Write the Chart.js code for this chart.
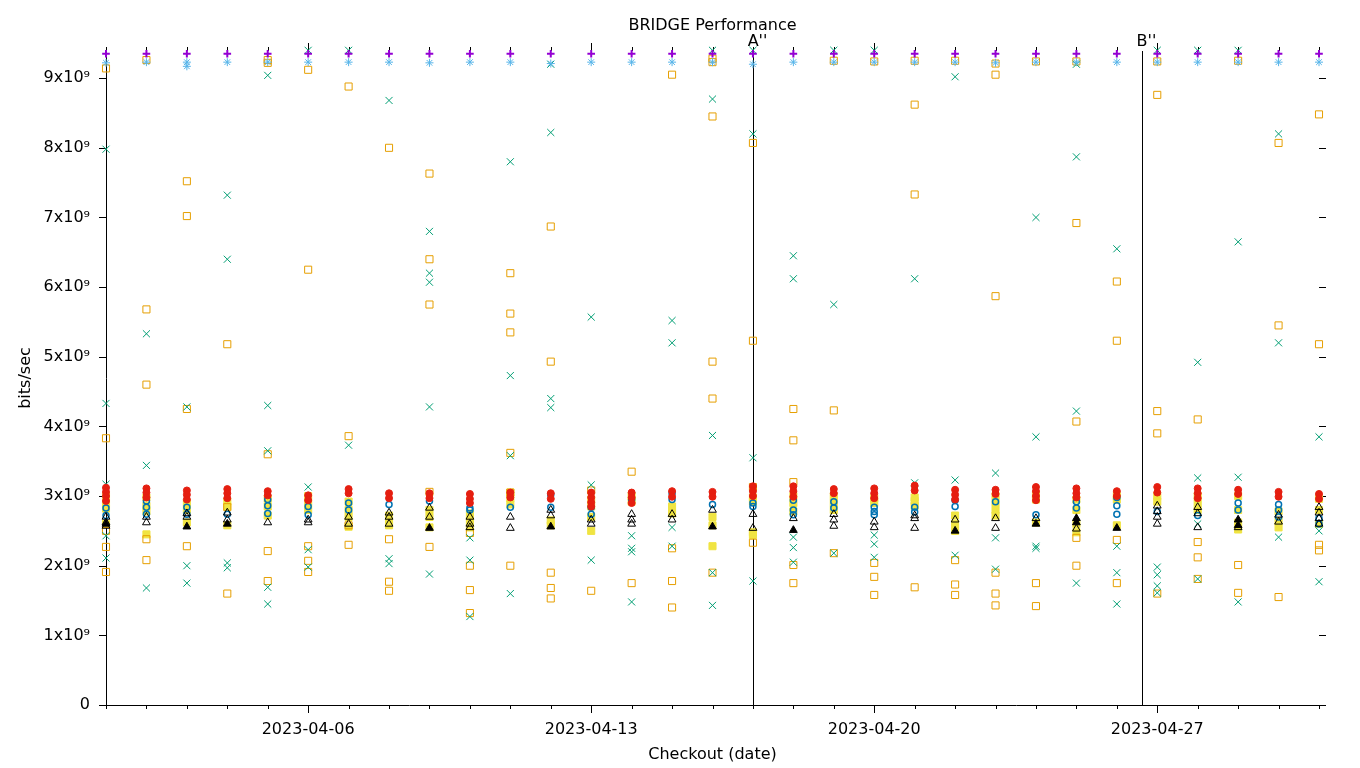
<!DOCTYPE html>
<html>
<head>
<meta charset="utf-8">
<title>BRIDGE Performance</title>
<script src="https://cdn.jsdelivr.net/npm/chart.js@4.4.1/dist/chart.umd.min.js"></script>
<style>
	html, body { margin: 0; padding: 0; background: #fff; }
	#chart { display: block; }
</style>
</head>
<body>
<canvas id="chart" width="1360" height="768"></canvas>
<script>
// one column of points per checkout date
const checkoutDates = [
	'2023-04-01', '2023-04-02', '2023-04-03', '2023-04-04', '2023-04-05', '2023-04-06', '2023-04-07',
	'2023-04-08', '2023-04-09', '2023-04-10', '2023-04-11', '2023-04-12', '2023-04-13', '2023-04-14',
	'2023-04-15', '2023-04-16', '2023-04-17', '2023-04-18', '2023-04-19', '2023-04-20', '2023-04-21',
	'2023-04-22', '2023-04-23', '2023-04-24', '2023-04-25', '2023-04-26', '2023-04-27', '2023-04-28',
	'2023-04-29', '2023-04-30', '2023-05-01'
];
const tickDates = ['2023-04-06', '2023-04-13', '2023-04-20', '2023-04-27'];
const yTicks = [0, 1, 2, 3, 4, 5, 6, 7, 8, 9]; // x10^9
const markerLabels = ["A''", "B''"];
const markerTimes = ['2023-04-17T00:00:00Z', '2023-04-26T15:00:00Z'];

// values in 10^9 bits/sec, a list per checkout date
const purplePlus = [
	[9.35], [9.35], [9.35], [9.35], [9.35], [9.35], [9.35], [9.35], [9.35], [9.35], [9.35],
	[9.35], [9.35], [9.35], [9.35], [9.35], [9.35], [9.35], [9.35], [9.35], [9.35], [9.35],
	[9.35], [9.35], [9.35], [9.35], [9.35], [9.35], [9.35], [9.35], [9.35]
];
const skyStar = [
	[9.22], [9.23], [9.23, 9.17], [9.23], [9.23], [9.23], [9.23], [9.23], [9.22], [9.23], [9.23],
	[9.21], [9.23], [9.23], [9.23], [9.23], [9.2], [9.23], [9.23], [9.23], [9.23], [9.23],
	[9.22], [9.23], [9.23], [9.23], [9.23], [9.23], [9.23], [9.23], [9.23]
];
const greenCross = [
	[7.98, 4.33, 3.17, 2.43, 2.11], [5.33, 3.44, 1.68], [4.28, 2.0, 1.75], [7.32, 6.4, 2.04, 1.97],
	[9.04, 4.3, 3.65, 1.69, 1.45], [9.4, 3.13, 2.23, 1.98], [9.4, 3.73], [8.68, 2.1, 2.03],
	[6.8, 6.2, 6.07, 4.28, 1.88], [2.4, 2.08, 1.27], [7.8, 4.73, 3.58, 1.6], [9.2, 8.22, 4.4, 4.27],
	[5.57, 3.16, 2.08], [2.43, 2.25, 2.2, 1.48], [5.52, 5.2, 2.55, 2.28], [9.4, 8.7, 3.87, 1.9, 1.43],
	[9.4, 8.2, 3.55, 1.78], [6.45, 6.12, 2.41, 2.26, 2.05], [9.4, 5.75, 2.18], [9.4, 2.44, 2.31, 2.12],
	[6.12, 3.19], [9.02, 3.23, 2.15], [3.33, 2.4, 1.95], [7.0, 3.85, 2.28, 2.25],
	[9.2, 7.87, 4.22, 1.75], [6.55, 2.28, 1.9, 1.45], [9.4, 1.98, 1.87, 1.71, 1.61],
	[9.4, 4.92, 3.26, 2.6, 1.81], [9.4, 6.65, 3.27, 1.48], [8.2, 5.2, 2.41], [3.85, 2.5, 1.77]
];
const orangeSquare = [
	[9.14, 3.83, 2.5, 2.27, 1.91], [9.26, 5.68, 4.6, 2.38, 2.08], [7.52, 7.02, 4.25, 2.28], [5.18, 2.84, 1.6],
	[9.26, 9.22, 3.6, 2.21, 1.78], [9.12, 6.25, 2.28, 2.07, 1.91], [8.88, 3.86, 2.58, 2.3], [8.0, 2.38, 1.77, 1.64],
	[7.63, 6.4, 5.75, 3.06, 2.27], [2.47, 2.0, 1.65, 1.32], [6.2, 5.62, 5.35, 3.62, 3.05, 2.0],
	[6.87, 4.93, 1.9, 1.68, 1.53], [3.08, 1.64], [3.35, 1.75], [9.05, 2.25, 1.78, 1.4],
	[9.28, 9.23, 8.45, 4.93, 4.4, 1.9], [8.07, 5.23, 3.13, 2.33], [4.25, 3.8, 3.2, 2.01, 1.75],
	[9.25, 4.23, 2.18], [9.24, 2.04, 1.84, 1.58], [9.25, 8.62, 7.33, 1.69], [9.25, 2.08, 1.73, 1.58],
	[9.21, 9.05, 5.87, 1.9, 1.6, 1.43], [9.24, 1.75, 1.42], [9.24, 6.92, 4.07, 2.4, 2.0],
	[6.08, 5.23, 2.37, 1.75], [9.24, 8.76, 4.22, 3.9, 1.6], [4.1, 2.34, 2.12, 1.81], [9.25, 2.01, 1.61],
	[8.07, 5.45, 1.55], [8.48, 5.18, 2.3, 2.22]
];
const yellowSquare = [
	[3.0, 2.9, 2.82, 2.6], [2.98, 2.86, 2.78, 2.45], [2.9, 2.8, 2.62], [2.92, 2.85, 2.58], [2.96, 2.85, 2.72],
	[3.0, 2.9, 2.8], [2.92, 2.8, 2.7, 2.56], [2.72, 2.64, 2.58], [2.8, 2.7, 2.55], [2.75, 2.65, 2.55],
	[3.05, 2.97, 2.88], [2.65, 2.58], [2.95, 2.85, 2.7, 2.5], [3.0, 2.92], [2.85, 2.75], [2.7, 2.58, 2.28],
	[2.98, 2.92, 2.48, 2.44], [3.0, 2.9, 2.78], [3.0, 2.9, 2.8], [2.97, 2.9], [2.98, 2.93, 2.86],
	[2.72, 2.6, 2.5], [3.0, 2.9, 2.8, 2.72], [3.02, 2.95, 2.62], [2.95, 2.8, 2.6, 2.48], [3.0, 2.95, 2.58],
	[3.0, 2.92], [3.0, 2.9, 2.8], [3.0, 2.8, 2.62, 2.52], [2.78, 2.64, 2.55], [2.96, 2.8, 2.6]
];
const blueCircle = [
	[2.83, 2.72], [2.93, 2.84, 2.74], [2.84, 2.74], [2.74], [2.95, 2.86, 2.75], [2.85, 2.73], [2.9, 2.8],
	[2.88], [2.93], [2.83, 2.8], [2.84], [3.02, 2.84], [2.84, 2.74], [2.95], [3.04, 2.95], [2.88],
	[2.9, 2.85], [2.94, 2.8, 2.73], [2.92, 2.83], [2.84, 2.78, 2.73], [2.84, 2.77], [2.94, 2.85], [2.92],
	[2.73], [2.92, 2.83], [2.98, 2.86, 2.74], [2.78], [2.72], [2.9, 2.8], [2.88, 2.8, 2.7], [2.68, 2.6]
];
const redDot = [
	[3.12, 3.06, 3.0, 2.93], [3.11, 3.05, 2.98], [3.08, 3.02, 2.95], [3.1, 3.04, 2.97], [3.07, 3.01],
	[3.01, 2.94], [3.1, 3.04], [3.04, 2.97], [3.04, 2.97], [3.03, 2.96, 2.9], [3.05, 2.98], [3.04, 2.96],
	[3.05, 2.98, 2.91, 2.85], [3.05, 2.98, 2.9], [3.07, 2.99], [3.06, 2.99], [3.14, 3.07, 3.0],
	[3.14, 3.07, 2.99], [3.1, 3.04], [3.11, 3.04, 2.97], [3.15, 3.08], [3.09, 3.02, 2.95], [3.09, 3.03],
	[3.13, 3.07, 3.0, 2.94], [3.11, 3.04, 2.98], [3.07, 3.0], [3.13, 3.05], [3.11, 3.04, 2.97],
	[3.09, 3.03], [3.06, 2.99], [3.03, 2.96]
];
const blackTriangle = [
	[2.7, 2.62, 2.57], [2.7, 2.62], [2.75, 2.7], [2.76, 2.66], [2.62], [2.66, 2.62], [2.7, 2.6],
	[2.76, 2.7, 2.6], [2.83, 2.7], [2.7, 2.6, 2.55], [2.7, 2.54], [2.8, 2.72], [2.66, 2.6],
	[2.74, 2.66, 2.6], [2.74, 2.66], [2.8], [2.74, 2.54], [2.68], [2.74, 2.66, 2.57], [2.63, 2.55],
	[2.72, 2.68, 2.54], [2.66], [2.68, 2.54], [2.68], [2.53], [], [2.86, 2.78, 2.7, 2.6],
	[2.84, 2.75, 2.55], [2.55], [2.73, 2.63], [2.84, 2.76, 2.68, 2.6]
];
const blackFilledTriangle = [
	[2.6], [], [2.56], [2.6], [], [], [], [], [2.54], [], [], [2.56], [], [], [], [2.56], [],
	[2.51], [], [], [], [2.5], [], [2.6], [2.68, 2.62], [2.54], [], [], [2.66, 2.58], [], []
];

document.addEventListener("DOMContentLoaded", function () {
	const dayMs = 86400000;
	const startMs = Date.parse(checkoutDates[0] + 'T00:00:00Z');

	// days since the first checkout
	function dayOffset(s) {
		const t = s.length === 10 ? s + 'T00:00:00Z' : s;
		return (Date.parse(t) - startMs) / dayMs;
	}

	function toPoints(series) {
		const points = [];
		series.forEach(function (values, i) {
			const x = dayOffset(checkoutDates[i]);
			values.forEach(function (v) {
				points.push({ x: x, y: v });
			});
		});
		return points;
	}

	function makeDataset(series, style, color, filled, radius, width, order) {
		return {
			data: toPoints(series),
			pointStyle: style,
			pointRadius: radius,
			pointHoverRadius: radius,
			pointBorderWidth: width,
			borderColor: color,
			pointBorderColor: color,
			backgroundColor: filled ? color : 'rgba(0,0,0,0)',
			pointBackgroundColor: filled ? color : 'rgba(0,0,0,0)',
			showLine: false,
			clip: false,
			order: order
		};
	}

	// gnuplot look: outward ticks on all four sides, A''/B'' lines
	const gnuplotFrame = {
		id: 'gnuplotFrame',
		beforeDatasetsDraw(chart) {
			const ctx = chart.ctx;
			const area = chart.chartArea;
			const xs = chart.scales.x;
			const ys = chart.scales.y;
			ctx.save();
			ctx.strokeStyle = '#000';
			ctx.fillStyle = '#000';
			ctx.lineWidth = 1;

			markerTimes.forEach(function (t, i) {
				const x = Math.round(xs.getPixelForValue(dayOffset(t))) + 0.5;
				ctx.beginPath();
				ctx.moveTo(x, area.top);
				ctx.lineTo(x, area.bottom);
				ctx.stroke();
				ctx.font = '16px "DejaVu Sans"';
				ctx.textAlign = 'center';
				ctx.textBaseline = 'alphabetic';
				ctx.fillText(markerLabels[i], x + 4, area.top - 5);
			});

			const majorDays = tickDates.map(dayOffset);
			checkoutDates.forEach(function (d) {
				const day = dayOffset(d);
				const len = majorDays.indexOf(day) >= 0 ? 8 : 4;
				const x = Math.round(xs.getPixelForValue(day)) + 0.5;
				ctx.beginPath();
				ctx.moveTo(x, area.bottom);
				ctx.lineTo(x, area.bottom + len);
				ctx.moveTo(x, area.top);
				ctx.lineTo(x, area.top - len);
				ctx.stroke();
			});

			yTicks.forEach(function (v) {
				const y = Math.round(ys.getPixelForValue(v)) + 0.5;
				ctx.beginPath();
				ctx.moveTo(area.left, y);
				ctx.lineTo(area.left - 7, y);
				ctx.moveTo(area.right, y);
				ctx.lineTo(area.right + 7, y);
				ctx.stroke();
			});
			ctx.restore();
		}
	};

	Chart.defaults.font.family = '"DejaVu Sans", sans-serif';
	Chart.defaults.font.size = 16;
	Chart.defaults.color = '#000';

	const yMax = 9.39;
	const ctx = document.getElementById('chart').getContext('2d');
	new Chart(ctx, {
		type: 'scatter',
		data: {
			datasets: [
				makeDataset(purplePlus, 'cross', '#9400D3', false, 3.8, 2, 0),
				makeDataset(skyStar, 'star', '#56B4E9', false, 4, 1, 1),
				makeDataset(redDot, 'circle', '#E51E10', true, 3.5, 1, 2),
				makeDataset(blackFilledTriangle, 'triangle', '#000000', true, 4.5, 1, 3),
				makeDataset(blackTriangle, 'triangle', '#000000', false, 4.5, 1, 4),
				makeDataset(blueCircle, 'circle', '#0072B2', false, 3, 1.5, 5),
				makeDataset(greenCross, 'crossRot', '#009E73', false, 5, 1, 6),
				makeDataset(orangeSquare, 'rect', '#E69F00', false, 5, 1, 7),
				makeDataset(yellowSquare, 'rect', '#F0E442', true, 5, 1, 8)
			]
		},
		options: {
			responsive: false,
			animation: false,
			devicePixelRatio: 1,
			layout: { padding: 0 },
			events: [],
			plugins: {
				legend: { display: false },
				tooltip: { enabled: false },
				title: { display: false }
			},
			scales: {
				x: {
					type: 'linear',
					position: 'bottom',
					min: 0,
					max: 30,
					grid: { display: false },
					border: { display: true, color: '#000', width: 1 },
					afterBuildTicks: function (scale) {
						scale.ticks = tickDates.map(function (d) { return { value: dayOffset(d) }; });
					},
					ticks: {
						autoSkip: false,
						maxRotation: 0,
						padding: 7,
						callback: function (value, index) { return tickDates[index]; }
					},
					title: { display: true, text: 'Checkout (date)', padding: { top: 0, bottom: 4 } },
					afterFit: function (scale) { scale.height = 63; }
				},
				xTop: {
					type: 'linear',
					position: 'top',
					min: 0,
					max: 30,
					grid: { display: false },
					border: { display: false },
					ticks: { display: false },
					title: { display: true, text: 'BRIDGE Performance', padding: { top: 16, bottom: 0 } },
					afterFit: function (scale) { scale.height = 51; }
				},
				y: {
					type: 'linear',
					position: 'left',
					min: 0,
					max: yMax,
					grid: { display: false },
					border: { display: true, color: '#000', width: 1 },
					afterBuildTicks: function (scale) {
						scale.ticks = yTicks.map(function (v) { return { value: v }; });
					},
					ticks: {
						padding: 8,
						callback: function (value) { return value === 0 ? '0' : value + 'x10\u2079'; }
					},
					title: { display: true, text: 'bits/sec', padding: { top: 16, bottom: 0 } },
					afterFit: function (scale) { scale.width = 106; }
				},
				yRight: {
					type: 'linear',
					position: 'right',
					min: 0,
					max: yMax,
					grid: { display: false },
					border: { display: false },
					ticks: { display: false },
					afterFit: function (scale) { scale.width = 41; }
				}
			}
		},
		plugins: [gnuplotFrame]
	});
});
</script>
</body>
</html>
